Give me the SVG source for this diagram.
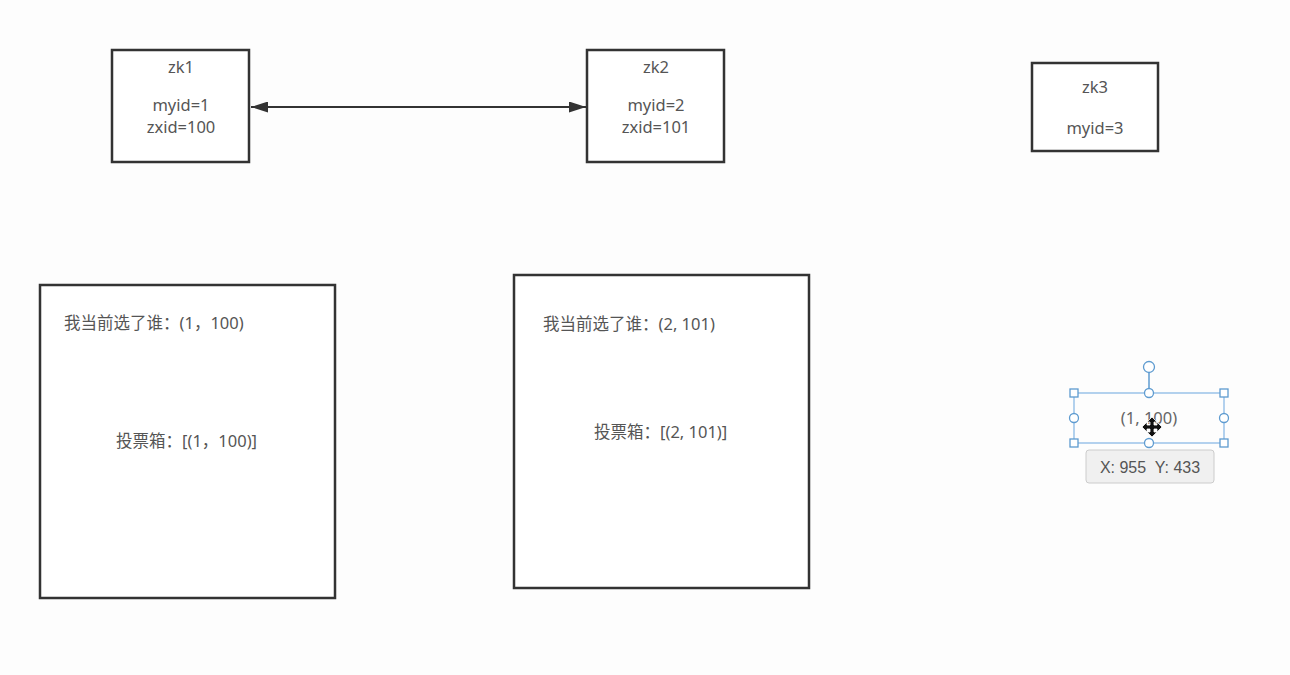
<svg xmlns="http://www.w3.org/2000/svg" width="1290" height="675" viewBox="0 0 1290 675">
<defs>
<style>
.box{fill:#ffffff;stroke:#333333;stroke-width:2.5}
.t{font-family:"Noto Sans","Noto Sans CJK SC",sans-serif;font-size:16.5px;fill:#555555}
.c{text-anchor:middle}
.sel{fill:none;stroke:#8cbbe6;stroke-width:1.3}
.h{fill:#ffffff;stroke:#5e9bd0;stroke-width:1.3}
.edge{stroke:#333333;stroke-width:2.2;fill:none}
</style>
<marker id="ah" viewBox="0 0 17 11" refX="17" refY="5.5" markerWidth="17" markerHeight="11" markerUnits="userSpaceOnUse" orient="auto-start-reverse">
<path d="M0,0 L17,5.5 L0,11 Z" fill="#333333"/>
</marker>
</defs>
<rect width="1290" height="675" fill="#fdfdfd"/>
<g id="connectors">
<line class="edge" x1="251" y1="107" x2="586" y2="107" marker-start="url(#ah)" marker-end="url(#ah)"/>
</g>
<g id="zk1">
<rect class="box" x="112" y="50" width="137" height="112"/>
<text class="t c" x="181" y="73">zk1</text>
<text class="t c" x="181" y="111">myid=1</text>
<text class="t c" x="181" y="133">zxid=100</text>
</g>
<g id="zk2">
<rect class="box" x="587" y="50" width="137" height="112"/>
<text class="t c" x="656" y="73">zk2</text>
<text class="t c" x="656" y="111">myid=2</text>
<text class="t c" x="656" y="133">zxid=101</text>
</g>
<g id="zk3">
<rect class="box" x="1032" y="63" width="126" height="88"/>
<text class="t c" x="1095" y="93">zk3</text>
<text class="t c" x="1095" y="134">myid=3</text>
</g>
<g id="box1">
<rect class="box" x="40" y="285" width="295" height="313"/>
<text class="t" x="64" y="329">我当前选了谁：(1，100)</text>
<text class="t" x="116" y="447">投票箱：[(1，100)]</text>
</g>
<g id="box2">
<rect class="box" x="514" y="275" width="295" height="313"/>
<text class="t" x="543" y="330">我当前选了谁：(2, 101)</text>
<text class="t" x="594" y="438">投票箱：[(2, 101)]</text>
</g>
<g id="selected">
<text class="t c" x="1149" y="424" style="fill:#666666">(1, 100)</text>
<rect class="sel" x="1074" y="393" width="150" height="50"/>
<line x1="1149" y1="373" x2="1149" y2="393" stroke="#5e9bd0" stroke-width="1.5"/>
<circle class="h" cx="1149" cy="367" r="5.5" stroke-width="2"/>
<rect class="h" x="1070" y="389" width="8" height="8"/>
<rect class="h" x="1220" y="389" width="8" height="8"/>
<rect class="h" x="1070" y="439" width="8" height="8"/>
<rect class="h" x="1220" y="439" width="8" height="8"/>
<circle class="h" cx="1149" cy="393" r="4.5"/>
<circle class="h" cx="1149" cy="443" r="4.5"/>
<circle class="h" cx="1074" cy="418" r="4.5"/>
<circle class="h" cx="1224" cy="418" r="4.5"/>
<path d="M1152,417 L1157,422 L1154,422 L1154,425 L1157,425 L1157,422 L1162,427 L1157,432 L1157,429 L1154,429 L1154,432 L1157,432 L1152,437 L1147,432 L1150,432 L1150,429 L1147,429 L1147,432 L1142,427 L1147,422 L1147,425 L1150,425 L1150,422 L1147,422 Z" fill="#111111" stroke="#ffffff" stroke-width="0.8"/>
<rect x="1086" y="450" width="128" height="33" rx="3" fill="#f0f0f0" stroke="#cccccc"/>
<text x="1150" y="473" text-anchor="middle" xml:space="preserve" style="font-family:'Liberation Sans',Arial,sans-serif;font-size:16px;fill:#555555;white-space:pre">X: 955  Y: 433</text>
</g>
</svg>
